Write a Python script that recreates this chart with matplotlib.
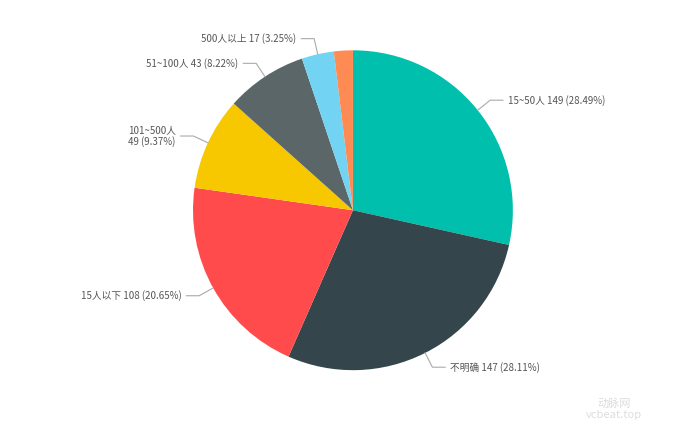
import matplotlib.pyplot as plt
import numpy as np

labels = ["15~50人", "不明确", "15人以下", "101~500人\n", "51~100人", "500人以上", ""]
values = [149, 147, 108, 49, 43, 17, 10]
pcts = ["28.49%", "28.11%", "20.65%", "9.37%", "8.22%", "3.25%", ""]
colors = ["#00bfad", "#34464b", "#ff4b4b", "#f7c800", "#5b6669", "#72d4f2", "#ff8b54"]

plt.rcParams['font.family'] = ['Noto Sans CJK SC', 'DejaVu Sans']
fig = plt.figure(figsize=(6.82, 4.26), dpi=100)
ax = fig.add_axes([0.283, 0.131, 0.469, 0.751])
wedges, _ = ax.pie(values, colors=colors, startangle=90, counterclock=False,
                   wedgeprops=dict(linewidth=0))
ax.set_xlim(-1, 1); ax.set_ylim(-1, 1); ax.set_aspect('equal')
for w, lab, v, p in zip(wedges, labels, values, pcts):
    if not lab:
        continue
    a = np.deg2rad((w.theta1 + w.theta2) / 2)
    x, y = np.cos(a), np.sin(a)
    ex, ey = 1.1 * x, 1.1 * y
    s = 1 if x >= 0 else -1
    hx = ex + s * 0.08
    ax.plot([1.0 * x, ex, hx], [1.0 * y, ey, ey], color="#aaaaaa", lw=0.8, clip_on=False)
    if lab.endswith("\n"):
        txt = f"{lab.strip()}\n{v} ({p})"
    else:
        txt = f"{lab} {v} ({p})"
    ax.text(hx + s * 0.03, ey, txt, ha='left' if s > 0 else 'right', va='center',
            fontsize=7, color="#555555", clip_on=False, linespacing=1.1,
            multialignment='right' if s < 0 else 'left')
fig.text(0.9, 0.04, "动脉网\nvcbeat.top", fontsize=8, color="#dddddd", ha='center', va='center')
fig.savefig("out.png", dpi=100)
